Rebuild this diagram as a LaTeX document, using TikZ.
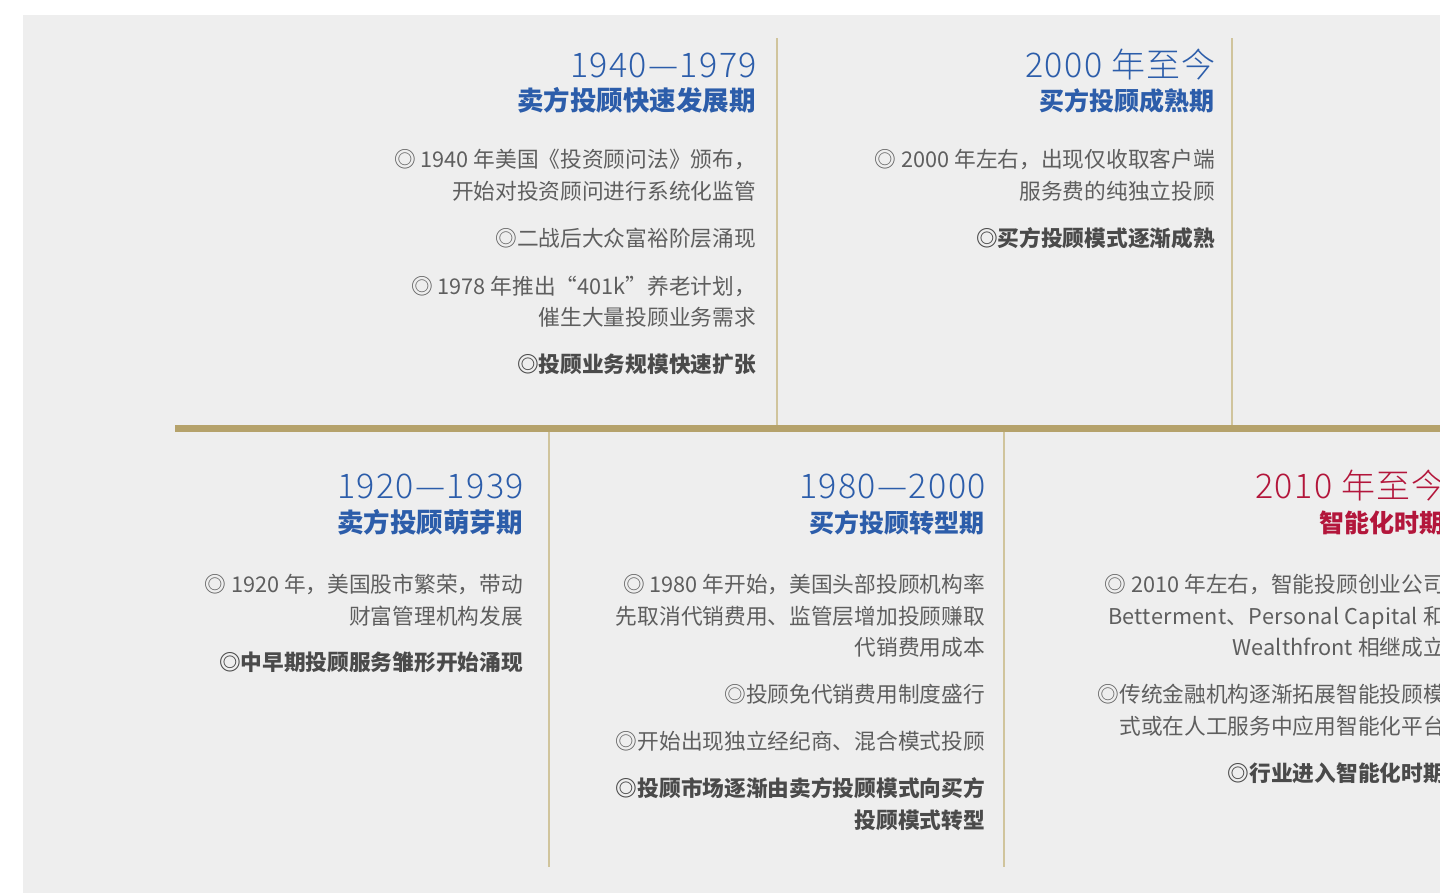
\documentclass[tikz,border=0pt]{standalone}
\usepackage{fontspec}
\setmainfont{Noto Sans CJK SC}
\IfFontExistsTF{Noto Sans CJK SC Light}
  {\newfontfamily\yearfont{Noto Sans CJK SC Light}[LetterSpace=4]}
  {\newfontfamily\yearfont{Noto Sans CJK SC}[LetterSpace=4]}
\newfontfamily\widelatin{Noto Sans CJK SC}[LetterSpace=1.4]
\definecolor{bgc}{HTML}{EEEEEE}
\definecolor{gold}{HTML}{B5A26B}
\definecolor{goldline}{HTML}{D0C49C}
\definecolor{tlblue}{HTML}{2C5DAA}
\definecolor{tlred}{HTML}{B3163B}
\definecolor{txt}{HTML}{5E5E5E}
\definecolor{txtb}{HTML}{4A4A4A}
\tikzset{
  yeartxt/.style={anchor=base east,inner sep=0pt,font=\yearfont\fontsize{34}{40}\selectfont,text=tlblue},
  subtxt/.style={anchor=base east,inner sep=0pt,font=\fontsize{26.5}{32}\selectfont\bfseries,text=tlblue},
  subtxtsm/.style={subtxt,font=\fontsize{25}{32}\selectfont\bfseries},
  bodytxt/.style={anchor=base east,inner sep=0pt,font=\fontsize{21.7}{32}\selectfont,text=txt},
  boldtxt/.style={anchor=base east,inner sep=0pt,font=\fontsize{21.7}{32}\selectfont\bfseries,text=txtb},
  vline/.style={draw=goldline,line width=2pt},
  mainbar/.style={draw=gold,line width=7pt}
}
\begin{document}
\begin{tikzpicture}[x=1pt,y=-1pt]
\useasboundingbox (0,0) rectangle (1440,894);
\fill[white] (0,0) rectangle (1440,894);
\fill[bgc] (23,15) rectangle (1440,893);
% timeline
\draw[mainbar] (175,428) -- (1440,428);
\draw[vline] (776.5,38) -- (776.5,424.5);
\draw[vline] (1232,38) -- (1232,424.5);
\draw[vline] (549,431.5) -- (549,867);
\draw[vline] (1004,431.5) -- (1004,867);
% top column 1
\node[yeartxt] (a0) at (757,77) {1940—1979};
\node[subtxt] (a1) at (756,110) {卖方投顾快速发展期};
\node[bodytxt] (a2) at (756,167) {◎ 1940 年美国《投资顾问法》颁布，};
\node[bodytxt] (a3) at (756,199) {开始对投资顾问进行系统化监管};
\node[bodytxt] (a4) at (756,246.5) {◎二战后大众富裕阶层涌现};
\node[bodytxt] (a5) at (756,294) {◎ 1978 年推出“401k”养老计划，};
\node[bodytxt] (a6) at (756,325.5) {催生大量投顾业务需求};
\node[boldtxt] (a7) at (756,372.5) {◎投顾业务规模快速扩张};
% top column 2
\node[yeartxt] (b0) at (1216,77) {2000 年至今};
\node[subtxtsm] (b1) at (1215,110) {买方投顾成熟期};
\node[bodytxt] (b2) at (1215,167) {◎ 2000 年左右，出现仅收取客户端};
\node[bodytxt] (b3) at (1215,199) {服务费的纯独立投顾};
\node[boldtxt] (b4) at (1215,246.5) {◎买方投顾模式逐渐成熟};
% bottom column 1
\node[yeartxt] (c0) at (524,498) {1920—1939};
\node[subtxt] (c1) at (523,532) {卖方投顾萌芽期};
\node[bodytxt] (c2) at (523,592) {◎ 1920 年，美国股市繁荣，带动};
\node[bodytxt] (c3) at (523,624) {财富管理机构发展};
\node[boldtxt] (c4) at (523,670.5) {◎中早期投顾服务雏形开始涌现};
% bottom column 2
\node[yeartxt] (d0) at (986,498) {1980—2000};
\node[subtxtsm] (d1) at (985,532) {买方投顾转型期};
\node[bodytxt] (d2) at (985,592) {◎ 1980 年开始，美国头部投顾机构率};
\node[bodytxt] (d3) at (985,624) {先取消代销费用、监管层增加投顾赚取};
\node[bodytxt] (d4) at (985,655.5) {代销费用成本};
\node[bodytxt] (d5) at (985,702) {◎投顾免代销费用制度盛行};
\node[bodytxt] (d6) at (985,749) {◎开始出现独立经纪商、混合模式投顾};
\node[boldtxt] (d7) at (985,796) {◎投顾市场逐渐由卖方投顾模式向买方};
\node[boldtxt] (d8) at (985,828) {投顾模式转型};
% bottom column 3
\node[yeartxt,text=tlred] (e0) at (1446,498) {2010 年至今};
\node[subtxtsm,text=tlred] (e1) at (1445,532) {智能化时期};
\node[bodytxt] (e2) at (1445,592) {◎ 2010 年左右，智能投顾创业公司};
\node[bodytxt,font=\widelatin\fontsize{21.7}{32}\selectfont] (e3) at (1445,624) {Betterment、Personal Capital 和};
\node[bodytxt] (e4) at (1445,655.5) {Wealthfront 相继成立};
\node[bodytxt] (e5) at (1445,702.5) {◎传统金融机构逐渐拓展智能投顾模};
\node[bodytxt] (e6) at (1445,734.5) {式或在人工服务中应用智能化平台};
\node[boldtxt] (e7) at (1445,781.5) {◎行业进入智能化时期};
\end{tikzpicture}
\end{document}
